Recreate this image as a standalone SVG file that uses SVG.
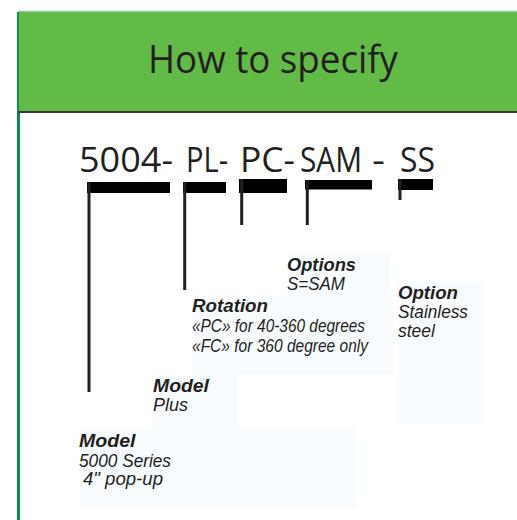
<svg xmlns="http://www.w3.org/2000/svg" width="517" height="520" viewBox="0 0 517 520">
<style>
.code{font-family:"Open Sans","Liberation Sans",sans-serif;font-size:35px;fill:#231f20}
.h{font-family:"Liberation Sans","Open Sans",sans-serif;font-size:18px;font-weight:bold;font-style:italic;fill:#231f20}
.t{font-family:"Liberation Sans","Open Sans",sans-serif;font-size:18px;font-style:italic;fill:#231f20}
.box{fill:#f8fcfe}
.bar{fill:#000}
.vl{stroke:#231f20;stroke-width:3;fill:none}
</style>
<rect width="517" height="520" fill="#fff"/>
<g id="header">
<rect x="18" y="12" width="500" height="100" fill="#62bb47"/>
<line x1="18" y1="11.5" x2="517" y2="11.5" stroke="#8fcaa8" stroke-width="1.5"/>
<line x1="18" y1="12" x2="18" y2="112" stroke="#10925a" stroke-width="2"/>
<line x1="18.5" y1="112" x2="18.5" y2="520" stroke="#0b8a52" stroke-width="3"/>
<line x1="18" y1="112" x2="517" y2="112" stroke="#3a3a3a" stroke-width="2"/>
<text x="273" y="73" text-anchor="middle" font-family="Open Sans, Liberation Sans, sans-serif" font-size="39" fill="#231f20" textLength="250" lengthAdjust="spacingAndGlyphs">How to specify</text>
</g>
<g id="code">
<text class="code" x="79" y="172" textLength="94" lengthAdjust="spacingAndGlyphs">5004-</text>
<text class="code" x="186" y="172" textLength="42" lengthAdjust="spacingAndGlyphs">PL-</text>
<text class="code" x="240" y="172" textLength="55" lengthAdjust="spacingAndGlyphs">PC-</text>
<text class="code" x="300" y="172" textLength="62" lengthAdjust="spacingAndGlyphs">SAM</text>
<text class="code" x="372" y="172" textLength="13" lengthAdjust="spacingAndGlyphs">-</text>
<text class="code" x="400" y="172" textLength="35" lengthAdjust="spacingAndGlyphs">SS</text>
</g>
<g id="connectors">
<rect class="bar" x="87" y="182" width="83" height="11"/>
<line class="vl" x1="89" y1="182" x2="89" y2="392"/>
<rect class="bar" x="183" y="182" width="43" height="11"/>
<line class="vl" x1="184.7" y1="182" x2="184.7" y2="290"/>
<rect class="bar" x="239" y="179" width="48" height="14"/>
<line class="vl" x1="241.7" y1="179" x2="241.7" y2="225"/>
<rect class="bar" x="305" y="180" width="67" height="9.5"/>
<line class="vl" x1="307.3" y1="180" x2="307.3" y2="225"/>
<rect class="bar" x="398" y="179" width="35" height="11"/>
<line class="vl" x1="400" y1="179" x2="400" y2="200"/>
</g>
<g id="node-options">
<rect class="box" x="288" y="252" width="102" height="44"/>
<text class="h" x="287" y="271" textLength="69" lengthAdjust="spacingAndGlyphs">Options</text>
<text class="t" x="287" y="290" textLength="58" lengthAdjust="spacingAndGlyphs">S=SAM</text>
</g>
<g id="node-option-ss">
<rect class="box" x="397" y="282" width="86" height="143"/>
<text class="h" x="398" y="299" textLength="60" lengthAdjust="spacingAndGlyphs">Option</text>
<text class="t" x="398" y="318" textLength="70" lengthAdjust="spacingAndGlyphs">Stainless</text>
<text class="t" x="398" y="337" textLength="37" lengthAdjust="spacingAndGlyphs">steel</text>
</g>
<g id="node-rotation">
<rect class="box" x="192" y="295" width="201" height="80"/>
<text class="h" x="192" y="311.7" textLength="76" lengthAdjust="spacingAndGlyphs">Rotation</text>
<text class="t" x="192" y="331.7" textLength="173" lengthAdjust="spacingAndGlyphs">«PC» for 40-360 degrees</text>
<text class="t" x="192" y="351.7" textLength="176" lengthAdjust="spacingAndGlyphs">«FC» for 360 degree only</text>
</g>
<g id="node-model-plus">
<rect class="box" x="153" y="375" width="85" height="53"/>
<text class="h" x="153" y="391.7" textLength="56" lengthAdjust="spacingAndGlyphs">Model</text>
<text class="t" x="153" y="410.7" textLength="35" lengthAdjust="spacingAndGlyphs">Plus</text>
</g>
<g id="node-model">
<rect class="box" x="79" y="429" width="278" height="79"/>
<text class="h" x="79" y="446.7" textLength="56.5" lengthAdjust="spacingAndGlyphs">Model</text>
<text class="t" x="79" y="466.7" textLength="92" lengthAdjust="spacingAndGlyphs">5000 Series</text>
<text class="t" x="83" y="485" textLength="80" lengthAdjust="spacingAndGlyphs">4" pop-up</text>
</g>
</svg>
